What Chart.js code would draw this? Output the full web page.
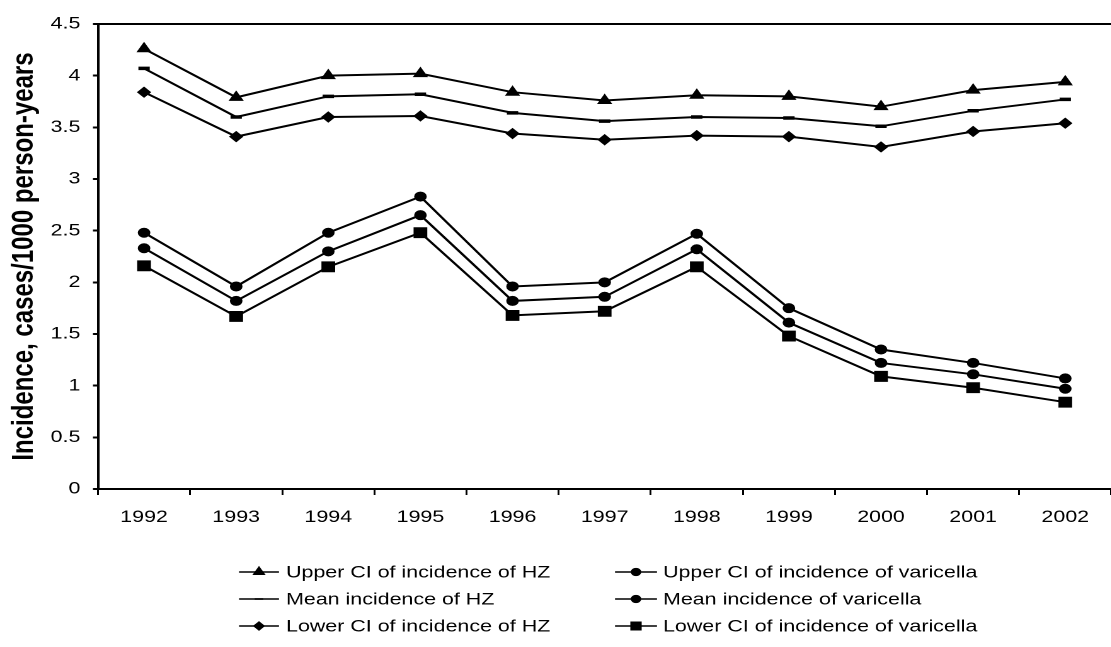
<!DOCTYPE html>
<html>
<head>
<meta charset="utf-8">
<script src="https://cdn.jsdelivr.net/npm/chart.js@4/dist/chart.umd.min.js"></script>
<style>
  html, body { margin: 0; padding: 0; background: #fff; overflow: hidden; }
  #wrap { width: 1111px; height: 647px; overflow: hidden; position: relative; }
  /* the scan is stretched sideways, so draw narrow and widen */
  #chart { position: absolute; left: 0; top: 0; transform: scaleX(1.26); transform-origin: 0 0; }
</style>
</head>
<body>
<div id="wrap"><canvas id="chart" width="890" height="647"></canvas></div>
<script>
const STRETCH = 1.26;

const years = ['1992','1993','1994','1995','1996','1997','1998','1999','2000','2001','2002'];

const hzUpper  = [4.26, 3.79, 4.00, 4.02, 3.84, 3.76, 3.81, 3.80, 3.70, 3.86, 3.94];
const hzMean   = [4.07, 3.60, 3.80, 3.82, 3.64, 3.56, 3.60, 3.59, 3.51, 3.66, 3.77];
const hzLower  = [3.84, 3.41, 3.60, 3.61, 3.44, 3.38, 3.42, 3.41, 3.31, 3.46, 3.54];
const varUpper = [2.48, 1.96, 2.48, 2.83, 1.96, 2.00, 2.47, 1.75, 1.35, 1.22, 1.07];
const varMean  = [2.33, 1.82, 2.30, 2.65, 1.82, 1.86, 2.32, 1.61, 1.22, 1.11, 0.97];
const varLower = [2.16, 1.67, 2.15, 2.48, 1.68, 1.72, 2.15, 1.48, 1.09, 0.98, 0.84];

const yMin = 0, yMax = 4.5, yStep = 0.5;
const yTitle = 'Incidence, cases/1000 person-years';

const FONT = '"Liberation Sans", Arial, sans-serif';

function series(label, data, style, r, bw) {
  return {
    label: label, data: data,
    borderColor: '#000', backgroundColor: '#000', borderWidth: 2, tension: 0,
    pointStyle: style, pointRadius: r, pointHoverRadius: r,
    pointBackgroundColor: '#000', pointBorderColor: '#000', pointBorderWidth: bw
  };
}

// legend drawn under the plot, two columns of three
const bottomLegend = {
  id: 'bottomLegend',
  afterDraw(chart) {
    const ctx = chart.ctx;
    const cols = [
      { x0: 239 / STRETCH, x1: 279 / STRETCH, tx: 286 / STRETCH },
      { x0: 615 / STRETCH, x1: 657 / STRETCH, tx: 663 / STRETCH }
    ];
    const rows = [572, 599, 626];
    chart.data.datasets.forEach((ds, i) => {
      const c = cols[Math.floor(i / 3)], y = rows[i % 3];
      ctx.save();
      ctx.strokeStyle = '#000'; ctx.fillStyle = '#000'; ctx.lineWidth = 1.6;
      ctx.beginPath(); ctx.moveTo(c.x0, y); ctx.lineTo(c.x1, y); ctx.stroke();
      Chart.helpers.drawPoint(ctx, {
        pointStyle: ds.pointStyle, rotation: 0,
        radius: ds.pointRadius * 0.75,
        borderWidth: ds.pointStyle === 'line' ? 3 : 1
      }, (c.x0 + c.x1) / 2, y);
      ctx.font = '17px ' + FONT;
      ctx.textBaseline = 'middle';
      ctx.textAlign = 'left';
      ctx.fillText(ds.label, c.tx, y + 1);
      ctx.restore();
    });
  }
};

new Chart(document.getElementById('chart'), {
  type: 'line',
  data: {
    labels: years,
    datasets: [
      series('Upper CI of incidence of HZ', hzUpper, 'triangle', 6, 1),
      series('Mean incidence of HZ', hzMean, 'line', 4.5, 3.5),
      series('Lower CI of incidence of HZ', hzLower, 'rectRot', 5, 1),
      series('Upper CI of incidence of varicella', varUpper, 'circle', 4.5, 1),
      series('Mean incidence of varicella', varMean, 'circle', 4.5, 1),
      series('Lower CI of incidence of varicella', varLower, 'rect', 7, 1)
    ]
  },
  options: {
    responsive: false,
    animation: false,
    devicePixelRatio: 2,
    layout: { padding: { left: 0, right: 0, top: 24, bottom: 118 } },
    plugins: { legend: { display: false }, tooltip: { enabled: false } },
    scales: {
      x: {
        offset: true,
        grid: { offset: true, drawOnChartArea: false, tickLength: 6, color: '#000', lineWidth: 1.5 },
        border: { display: true, color: '#000', width: 2 },
        ticks: { color: '#000', font: { family: FONT, size: 17 }, padding: 12, maxRotation: 0 },
        afterFit(scale) { scale.height = 40; }
      },
      y: {
        min: yMin, max: yMax,
        grid: {
          color: (c) => (c.tick && c.tick.value === yMax ? '#000' : 'rgba(0,0,0,0)'),
          tickColor: '#000', lineWidth: 2, tickLength: 4
        },
        border: { display: true, color: '#000', width: 2 },
        ticks: {
          stepSize: yStep, color: '#000', padding: 10,
          font: { family: FONT, size: 17 },
          callback: (v) => String(Math.round(v * 10) / 10)
        },
        title: {
          display: true, text: yTitle, color: '#000',
          font: { family: FONT, size: 24, weight: 'bold' },
          padding: { top: 5, bottom: 0 }
        },
        afterFit(scale) { scale.width = 98 / STRETCH; }
      }
    }
  },
  plugins: [bottomLegend]
});
</script>
</body>
</html>
